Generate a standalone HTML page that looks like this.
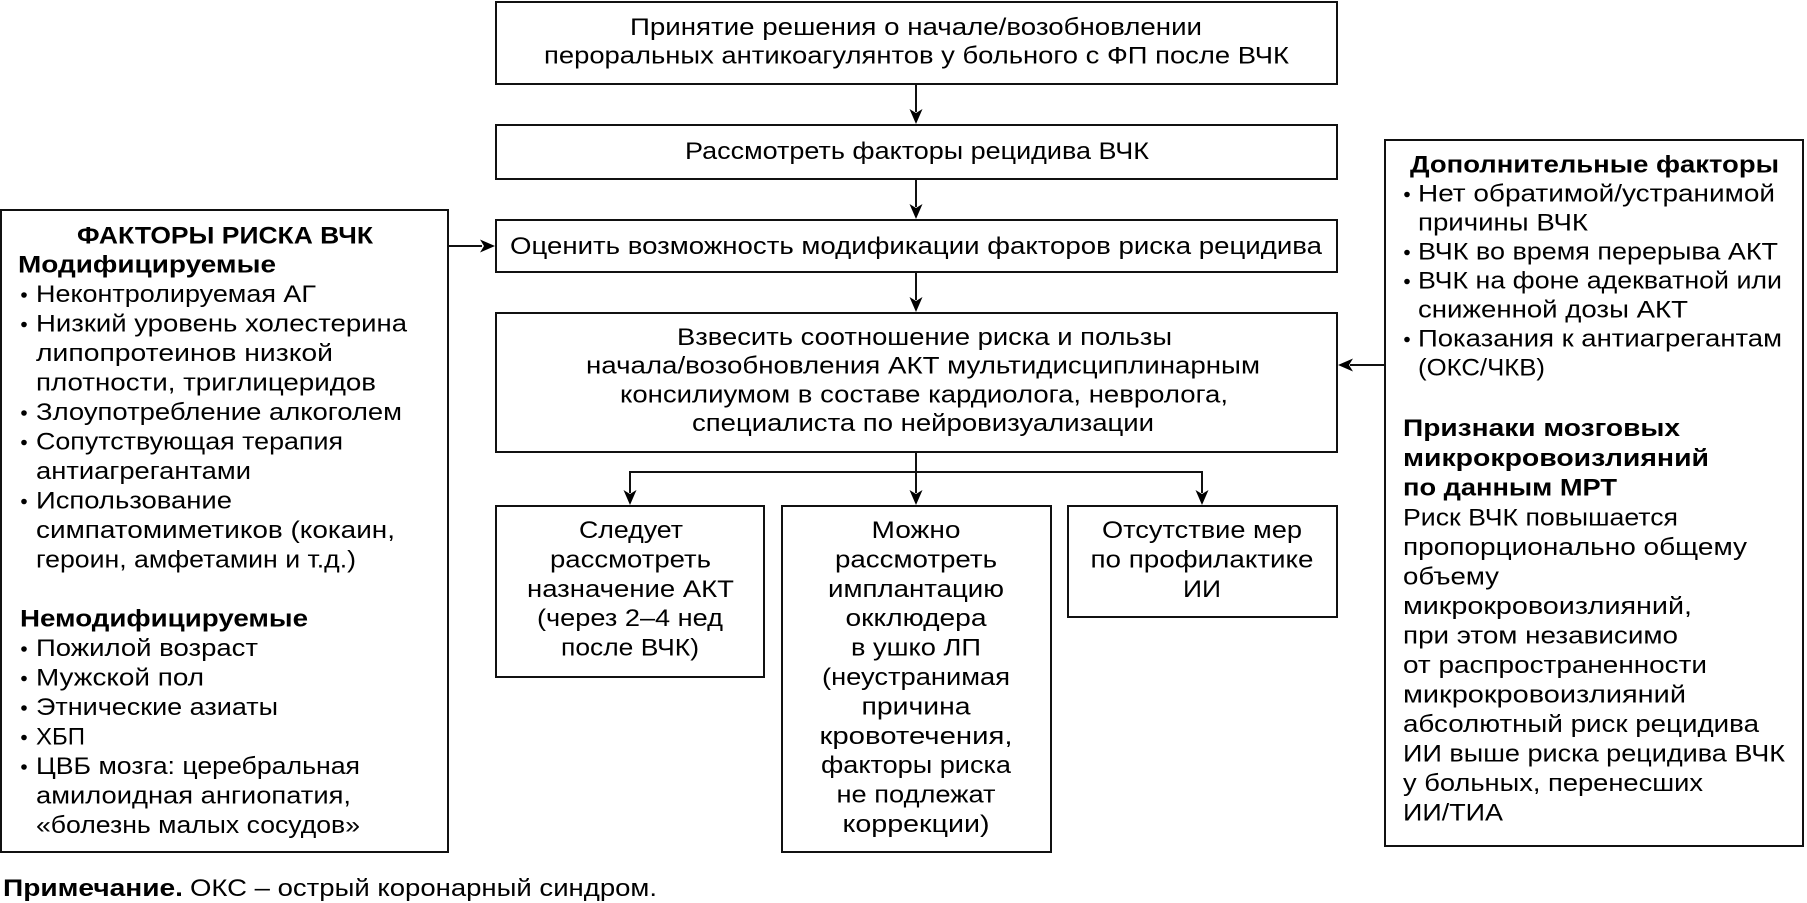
<!DOCTYPE html>
<html><head><meta charset="utf-8"><style>
html,body{margin:0;padding:0;background:#fff;}
svg{display:block;}
text{font-family:"Liberation Sans","DejaVu Sans",sans-serif;font-size:24px;fill:#000;}
.b{font-weight:bold;}
</style></head><body>
<svg width="1807" height="903" viewBox="0 0 1807 903" xmlns="http://www.w3.org/2000/svg">
<rect x="0" y="0" width="1807" height="903" fill="#fff"/>
<g fill="none" stroke="#111" stroke-width="2">
<rect x="496" y="2" width="841" height="82"/>
<rect x="496" y="125" width="841" height="54"/>
<rect x="496" y="220" width="841" height="52"/>
<rect x="496" y="313" width="841" height="139"/>
<rect x="1" y="210" width="447" height="642"/>
<rect x="1385" y="140" width="418" height="706"/>
<rect x="496" y="506" width="268" height="171"/>
<rect x="782" y="506" width="269" height="346"/>
<rect x="1068" y="506" width="269" height="111"/>
<line x1="916" y1="85" x2="916" y2="112"/>
<line x1="916" y1="179" x2="916" y2="207"/>
<line x1="916" y1="272" x2="916" y2="300"/>
<line x1="449" y1="246" x2="482" y2="246"/>
<line x1="1384" y1="365" x2="1350" y2="365"/>
<polyline points="916,453 916,472 630,472 630,493"/>
<polyline points="916,472 1202,472 1202,493"/>
<line x1="916" y1="472" x2="916" y2="493"/>
</g>
<g fill="#000">
<path d="M916,124 L909.5,109 L916,113 L922.5,109 Z"/>
<path d="M916,219 L909.5,204 L916,208 L922.5,204 Z"/>
<path d="M916,312 L909.5,297 L916,301 L922.5,297 Z"/>
<path d="M495,246 L480,239.5 L484,246 L480,252.5 Z"/>
<path d="M1338,365 L1353,358.5 L1349,365 L1353,371.5 Z"/>
<path d="M630,505 L623.5,490 L630,494 L636.5,490 Z"/>
<path d="M916,505 L909.5,490 L916,494 L922.5,490 Z"/>
<path d="M1202,505 L1195.5,490 L1202,494 L1208.5,490 Z"/>
</g>

<!-- top box -->
<text x="630" y="35" textLength="572" lengthAdjust="spacingAndGlyphs">Принятие решения о начале/возобновлении</text>
<text x="544" y="63.5" textLength="745" lengthAdjust="spacingAndGlyphs">пероральных антикоагулянтов у больного с ФП после ВЧК</text>
<text x="685" y="159" textLength="464" lengthAdjust="spacingAndGlyphs">Рассмотреть факторы рецидива ВЧК</text>
<text x="510" y="254" textLength="812" lengthAdjust="spacingAndGlyphs">Оценить возможность модификации факторов риска рецидива</text>
<text x="677" y="345" textLength="495" lengthAdjust="spacingAndGlyphs">Взвесить соотношение риска и пользы</text>
<text x="586" y="373.7" textLength="674" lengthAdjust="spacingAndGlyphs">начала/возобновления АКТ мультидисциплинарным</text>
<text x="620" y="402.4" textLength="608" lengthAdjust="spacingAndGlyphs">консилиумом в составе кардиолога, невролога,</text>
<text x="692" y="431" textLength="462" lengthAdjust="spacingAndGlyphs">специалиста по нейровизуализации</text>

<!-- left box -->
<text class="b" x="77" y="243.5" textLength="296" lengthAdjust="spacingAndGlyphs">ФАКТОРЫ РИСКА ВЧК</text>
<text class="b" x="18" y="272.5" textLength="258" lengthAdjust="spacingAndGlyphs">Модифицируемые</text>
<g fill="#000">
<circle cx="24" cy="295" r="2.8"/>
<circle cx="24" cy="324.5" r="2.8"/>
<circle cx="24" cy="413" r="2.8"/>
<circle cx="24" cy="442.5" r="2.8"/>
<circle cx="24" cy="501.5" r="2.8"/>
<circle cx="24" cy="649" r="2.8"/>
<circle cx="24" cy="678.5" r="2.8"/>
<circle cx="24" cy="708" r="2.8"/>
<circle cx="24" cy="737.5" r="2.8"/>
<circle cx="24" cy="767" r="2.8"/>
</g>
<text x="36" y="302" textLength="280" lengthAdjust="spacingAndGlyphs">Неконтролируемая АГ</text>
<text x="36" y="331.5" textLength="371" lengthAdjust="spacingAndGlyphs">Низкий уровень холестерина</text>
<text x="36" y="361" textLength="297" lengthAdjust="spacingAndGlyphs">липопротеинов низкой</text>
<text x="36" y="390.5" textLength="340" lengthAdjust="spacingAndGlyphs">плотности, триглицеридов</text>
<text x="36" y="420" textLength="366" lengthAdjust="spacingAndGlyphs">Злоупотребление алкоголем</text>
<text x="36" y="449.5" textLength="307" lengthAdjust="spacingAndGlyphs">Сопутствующая терапия</text>
<text x="36" y="479" textLength="215" lengthAdjust="spacingAndGlyphs">антиагрегантами</text>
<text x="36" y="508.5" textLength="196" lengthAdjust="spacingAndGlyphs">Использование</text>
<text x="36" y="538" textLength="359" lengthAdjust="spacingAndGlyphs">симпатомиметиков (кокаин,</text>
<text x="36" y="567.5" textLength="320" lengthAdjust="spacingAndGlyphs">героин, амфетамин и т.д.)</text>
<text class="b" x="20" y="626.5" textLength="288" lengthAdjust="spacingAndGlyphs">Немодифицируемые</text>
<text x="36" y="656" textLength="222" lengthAdjust="spacingAndGlyphs">Пожилой возраст</text>
<text x="36" y="685.5" textLength="168" lengthAdjust="spacingAndGlyphs">Мужской пол</text>
<text x="36" y="715" textLength="242" lengthAdjust="spacingAndGlyphs">Этнические азиаты</text>
<text x="36" y="744.5" textLength="49" lengthAdjust="spacingAndGlyphs">ХБП</text>
<text x="36" y="774" textLength="324" lengthAdjust="spacingAndGlyphs">ЦВБ мозга: церебральная</text>
<text x="36" y="803.5" textLength="315" lengthAdjust="spacingAndGlyphs">амилоидная ангиопатия,</text>
<text x="36" y="833" textLength="324" lengthAdjust="spacingAndGlyphs">«болезнь малых сосудов»</text>

<!-- right box -->
<text class="b" x="1410" y="172.5" textLength="369" lengthAdjust="spacingAndGlyphs">Дополнительные факторы</text>
<g fill="#000">
<circle cx="1407" cy="194.5" r="2.8"/>
<circle cx="1407" cy="252.5" r="2.8"/>
<circle cx="1407" cy="281.5" r="2.8"/>
<circle cx="1407" cy="339.5" r="2.8"/>
</g>
<text x="1418" y="201.5" textLength="357" lengthAdjust="spacingAndGlyphs">Нет обратимой/устранимой</text>
<text x="1418" y="230.5" textLength="170" lengthAdjust="spacingAndGlyphs">причины ВЧК</text>
<text x="1418" y="259.5" textLength="360" lengthAdjust="spacingAndGlyphs">ВЧК во время перерыва АКТ</text>
<text x="1418" y="288.5" textLength="364" lengthAdjust="spacingAndGlyphs">ВЧК на фоне адекватной или</text>
<text x="1418" y="317.5" textLength="270" lengthAdjust="spacingAndGlyphs">сниженной дозы АКТ</text>
<text x="1418" y="346.5" textLength="364" lengthAdjust="spacingAndGlyphs">Показания к антиагрегантам</text>
<text x="1418" y="375.5" textLength="127" lengthAdjust="spacingAndGlyphs">(ОКС/ЧКВ)</text>
<text class="b" x="1403" y="436" textLength="277" lengthAdjust="spacingAndGlyphs">Признаки мозговых</text>
<text class="b" x="1403" y="466" textLength="306" lengthAdjust="spacingAndGlyphs">микрокровоизлияний</text>
<text class="b" x="1403" y="495.5" textLength="214" lengthAdjust="spacingAndGlyphs">по данным МРТ</text>
<text x="1403" y="525.5" textLength="275" lengthAdjust="spacingAndGlyphs">Риск ВЧК повышается</text>
<text x="1403" y="555" textLength="344" lengthAdjust="spacingAndGlyphs">пропорционально общему</text>
<text x="1403" y="584.5" textLength="96" lengthAdjust="spacingAndGlyphs">объему</text>
<text x="1403" y="614" textLength="289" lengthAdjust="spacingAndGlyphs">микрокровоизлияний,</text>
<text x="1403" y="643.5" textLength="275" lengthAdjust="spacingAndGlyphs">при этом независимо</text>
<text x="1403" y="673" textLength="304" lengthAdjust="spacingAndGlyphs">от распространенности</text>
<text x="1403" y="702.5" textLength="283" lengthAdjust="spacingAndGlyphs">микрокровоизлияний</text>
<text x="1403" y="732" textLength="356" lengthAdjust="spacingAndGlyphs">абсолютный риск рецидива</text>
<text x="1403" y="761.5" textLength="382" lengthAdjust="spacingAndGlyphs">ИИ выше риска рецидива ВЧК</text>
<text x="1403" y="791" textLength="300" lengthAdjust="spacingAndGlyphs">у больных, перенесших</text>
<text x="1403" y="820.5" textLength="100" lengthAdjust="spacingAndGlyphs">ИИ/ТИА</text>

<!-- bottom boxes -->
<g text-anchor="middle">
<text x="631" y="538" textLength="104" lengthAdjust="spacingAndGlyphs">Следует</text>
<text x="630.5" y="567.4" textLength="161" lengthAdjust="spacingAndGlyphs">рассмотреть</text>
<text x="630.5" y="596.8" textLength="207" lengthAdjust="spacingAndGlyphs">назначение АКТ</text>
<text x="630" y="626.2" textLength="186" lengthAdjust="spacingAndGlyphs">(через 2–4 нед</text>
<text x="630" y="655.6" textLength="138" lengthAdjust="spacingAndGlyphs">после ВЧК)</text>

<text x="916" y="538" textLength="89" lengthAdjust="spacingAndGlyphs">Можно</text>
<text x="916" y="567.4" textLength="162" lengthAdjust="spacingAndGlyphs">рассмотреть</text>
<text x="916" y="596.8" textLength="176" lengthAdjust="spacingAndGlyphs">имплантацию</text>
<text x="916" y="626.2" textLength="141" lengthAdjust="spacingAndGlyphs">окклюдера</text>
<text x="916" y="655.6" textLength="130" lengthAdjust="spacingAndGlyphs">в ушко ЛП</text>
<text x="916" y="685" textLength="188" lengthAdjust="spacingAndGlyphs">(неустранимая</text>
<text x="916" y="714.4" textLength="109" lengthAdjust="spacingAndGlyphs">причина</text>
<text x="916" y="743.8" textLength="193" lengthAdjust="spacingAndGlyphs">кровотечения,</text>
<text x="916" y="773.2" textLength="190" lengthAdjust="spacingAndGlyphs">факторы риска</text>
<text x="916" y="802.6" textLength="159" lengthAdjust="spacingAndGlyphs">не подлежат</text>
<text x="916" y="832" textLength="147" lengthAdjust="spacingAndGlyphs">коррекции)</text>

<text x="1202" y="538" textLength="200" lengthAdjust="spacingAndGlyphs">Отсутствие мер</text>
<text x="1202" y="567.4" textLength="223" lengthAdjust="spacingAndGlyphs">по профилактике</text>
<text x="1202" y="596.8" textLength="38" lengthAdjust="spacingAndGlyphs">ИИ</text>
</g>

<!-- note -->
<text class="b" x="3" y="896" textLength="180" lengthAdjust="spacingAndGlyphs">Примечание.</text>
<text x="190" y="896" textLength="467" lengthAdjust="spacingAndGlyphs">ОКС – острый коронарный синдром.</text>
</svg>
</body></html>
